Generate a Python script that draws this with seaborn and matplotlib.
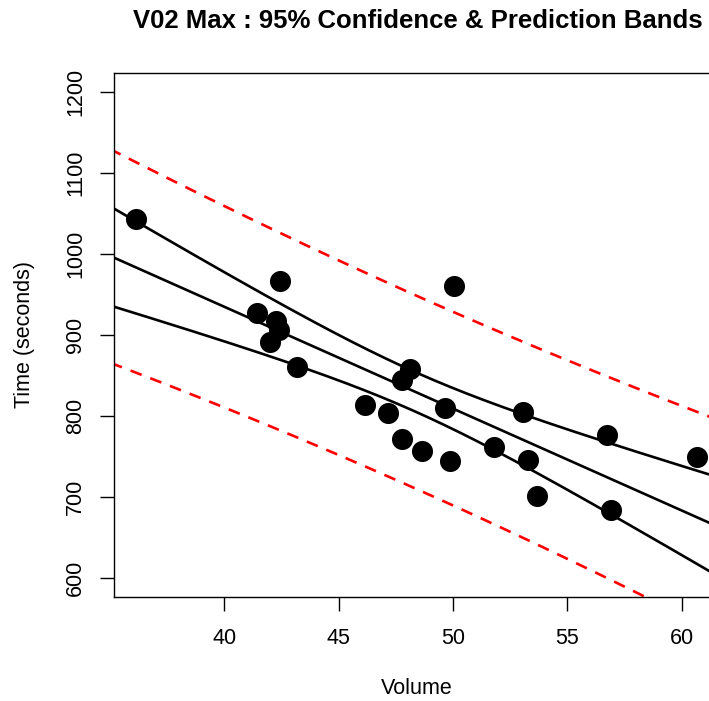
import numpy as np
import pandas as pd
import matplotlib
matplotlib.use("Agg")
import matplotlib.pyplot as plt
import seaborn as sns

# Data
volume = [36.16, 41.44, 42.45, 42.27, 42.4, 42.0, 43.19, 46.16, 47.16, 47.77,
          47.77, 48.12, 48.65, 49.65, 49.87, 50.04, 51.79, 53.06, 53.28, 53.67,
          56.72, 56.9, 60.65]
time_s = [1044, 927, 967, 917, 906, 891, 860, 814, 804, 771,
          844, 858, 756, 810, 744, 961, 761, 805, 746, 701,
          776, 683, 749]
x_ticks = [40, 45, 50, 55, 60]
y_ticks = [600, 700, 800, 900, 1000, 1100, 1200]
title = "V02 Max : 95% Confidence & Prediction Bands"
t_crit = 2.079614  # t(0.975, df=21)

sns.set_theme(style="white")
plt.rcParams['font.family'] = ['Liberation Sans', 'DejaVu Sans']
plt.rcParams['text.color'] = 'black'
plt.rcParams['axes.labelcolor'] = 'black'

df = pd.DataFrame({"Volume": volume, "Time": time_s})
x = df["Volume"].to_numpy(float)
y = df["Time"].to_numpy(float)
n = len(x)
b1, b0 = np.polyfit(x, y, 1)
resid = y - (b0 + b1 * x)
s = np.sqrt(np.sum(resid ** 2) / (n - 2))
xm = x.mean()
sxx = np.sum((x - xm) ** 2)

xlim = (35.18, 61.63)
ylim = (576, 1224)
xs = np.linspace(xlim[0] - 1, xlim[1] + 1, 200)
fit = b0 + b1 * xs
se_c = s * np.sqrt(1 / n + (xs - xm) ** 2 / sxx)
se_p = s * np.sqrt(1 + 1 / n + (xs - xm) ** 2 / sxx)
bands = pd.DataFrame({
    "x": xs, "fit": fit,
    "clo": fit - t_crit * se_c, "chi": fit + t_crit * se_c,
    "plo": fit - t_crit * se_p, "phi": fit + t_crit * se_p,
})

W, H = 709, 701
fig = plt.figure(figsize=(W / 100, H / 100), dpi=100)
ax = fig.add_axes([114 / W, (H - 597) / H, (719 - 114) / W, (597 - 73) / H])

sns.scatterplot(data=df, x="Volume", y="Time", ax=ax, color="black", s=230,
                edgecolor="black", linewidth=0, zorder=3)
for col in ["fit", "clo", "chi"]:
    sns.lineplot(data=bands, x="x", y=col, ax=ax, color="black", lw=1.9,
                 zorder=2)
for col in ["plo", "phi"]:
    sns.lineplot(data=bands, x="x", y=col, ax=ax, color="red", lw=1.9,
                 dashes=False, zorder=2).lines[-1].set_dashes([4.5, 3.5])

ax.set_xlim(*xlim)
ax.set_ylim(*ylim)
ax.set_xticks(x_ticks)
ax.set_yticks(y_ticks)
ax.set_yticklabels([str(v) for v in y_ticks], rotation=90, va="center")
ax.tick_params(axis="both", direction="out", length=10, width=1.0,
               labelsize=15.5, colors="black", bottom=True, left=True)
ax.tick_params(axis="x", pad=12)
ax.tick_params(axis="y", pad=10)
for sp in ax.spines.values():
    sp.set_color("black")
    sp.set_linewidth(1.0)
ax.set_xlabel("Volume", fontsize=15.5, labelpad=21, color="black")
ax.set_ylabel("Time (seconds)", fontsize=15.5, labelpad=22, color="black")
fig.text(418 / W, 1 - 21 / H, title, ha="center", va="center",
         fontsize=18.5, fontweight="bold", color="black")

fig.savefig("out.png", dpi=100)
